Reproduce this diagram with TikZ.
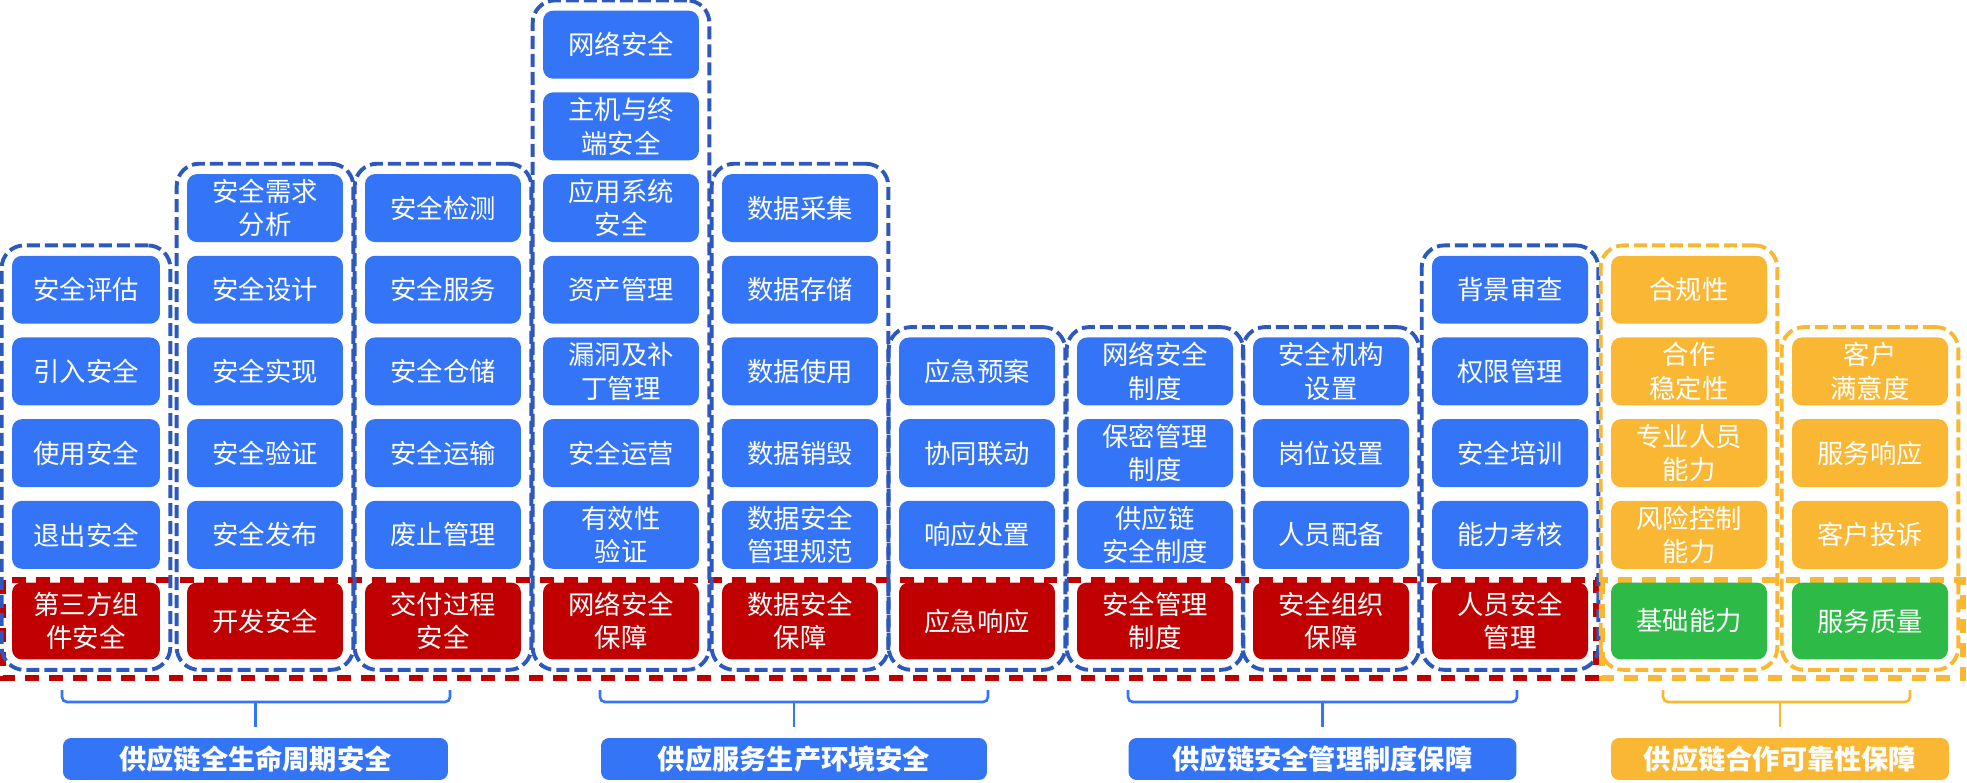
\documentclass[tikz,border=0pt]{standalone}
\usepackage{fontspec}
\newfontfamily\cjk{Noto Sans CJK SC}
\usetikzlibrary{positioning,fit}

\definecolor{itemblue}{RGB}{52,117,247}
\definecolor{frameblue}{RGB}{45,88,190}
\definecolor{basered}{RGB}{192,0,0}
\definecolor{itemorange}{RGB}{250,183,52}
\definecolor{basegreen}{RGB}{46,186,70}

\begin{document}
\begin{tikzpicture}[x=0.02cm, y=-0.02cm, node distance=0.26cm,
    every node/.style={font=\cjk\fontsize{15}{19}\selectfont, text=white, align=center},
    item/.style={rectangle, rounded corners=0.2cm, fill=itemblue, minimum width=3.12cm, minimum height=1.36cm, inner sep=1pt},
    redbase/.style={item, fill=basered, minimum height=1.54cm},
    orangeitem/.style={item, fill=itemorange},
    greenbase/.style={redbase, fill=basegreen},
    pillar/.style={rectangle, draw=frameblue, line width=2.2pt, dash pattern=on 0.26cm off 0.1cm, rounded corners=0.45cm, inner sep=0.2cm},
    orangepillar/.style={pillar, draw=itemorange},
    band/.style={line width=3.4pt, dash pattern=on 0.28cm off 0.2cm},
    groupbrace/.style={line width=1.5pt, rounded corners=0.1cm},
    groupbox/.style={rectangle, rounded corners=0.16cm, fill=itemblue, minimum height=0.84cm, font=\cjk\bfseries\fontsize{15.5}{19}\selectfont}]

    \useasboundingbox (0,0) rectangle (1967,783);

    % Dashed bands behind the base row
    \draw[band, draw=basered] (3,580) rectangle (1596,678);
    \draw[band, draw=itemorange] (1602,580) rectangle (1963,678);

    % Base row
    \node[redbase, minimum width=2.96cm] (base1) at (86,621) {第三方组\\件安全};
    \node[redbase] (base2) at (265,621) {开发安全};
    \node[redbase] (base3) at (443,621) {交付过程\\安全};
    \node[redbase] (base4) at (621,621) {网络安全\\保障};
    \node[redbase] (base5) at (800,621) {数据安全\\保障};
    \node[redbase] (base6) at (977,621) {应急响应};
    \node[redbase] (base7) at (1155,621) {安全管理\\制度};
    \node[redbase] (base8) at (1331,621) {安全组织\\保障};
    \node[redbase] (base9) at (1510,621) {人员安全\\管理};
    \node[greenbase] (base10) at (1689,621) {基础能力};
    \node[greenbase] (base11) at (1870,621) {服务质量};

    % Lifecycle columns
    \node[item, minimum width=2.96cm, above=of base1] (c1d) {退出安全};
    \node[item, minimum width=2.96cm, above=of c1d] (c1c) {使用安全};
    \node[item, minimum width=2.96cm, above=of c1c] (c1b) {引入安全};
    \node[item, minimum width=2.96cm, above=of c1b] (c1a) {安全评估};

    \node[item, above=of base2] (c2e) {安全发布};
    \node[item, above=of c2e] (c2d) {安全验证};
    \node[item, above=of c2d] (c2c) {安全实现};
    \node[item, above=of c2c] (c2b) {安全设计};
    \node[item, above=of c2b] (c2a) {安全需求\\分析};

    \node[item, above=of base3] (c3e) {废止管理};
    \node[item, above=of c3e] (c3d) {安全运输};
    \node[item, above=of c3d] (c3c) {安全仓储};
    \node[item, above=of c3c] (c3b) {安全服务};
    \node[item, above=of c3b] (c3a) {安全检测};

    % Environment columns
    \node[item, above=of base4] (c4g) {有效性\\验证};
    \node[item, above=of c4g] (c4f) {安全运营};
    \node[item, above=of c4f] (c4e) {漏洞及补\\丁管理};
    \node[item, above=of c4e] (c4d) {资产管理};
    \node[item, above=of c4d] (c4c) {应用系统\\安全};
    \node[item, above=of c4c] (c4b) {主机与终\\端安全};
    \node[item, above=of c4b] (c4a) {网络安全};

    \node[item, above=of base5] (c5e) {数据安全\\管理规范};
    \node[item, above=of c5e] (c5d) {数据销毁};
    \node[item, above=of c5d] (c5c) {数据使用};
    \node[item, above=of c5c] (c5b) {数据存储};
    \node[item, above=of c5b] (c5a) {数据采集};

    \node[item, above=of base6] (c6c) {响应处置};
    \node[item, above=of c6c] (c6b) {协同联动};
    \node[item, above=of c6b] (c6a) {应急预案};

    % Management columns
    \node[item, above=of base7] (c7c) {供应链\\安全制度};
    \node[item, above=of c7c] (c7b) {保密管理\\制度};
    \node[item, above=of c7b] (c7a) {网络安全\\制度};

    \node[item, above=of base8] (c8c) {人员配备};
    \node[item, above=of c8c] (c8b) {岗位设置};
    \node[item, above=of c8b] (c8a) {安全机构\\设置};

    \node[item, above=of base9] (c9d) {能力考核};
    \node[item, above=of c9d] (c9c) {安全培训};
    \node[item, above=of c9c] (c9b) {权限管理};
    \node[item, above=of c9b] (c9a) {背景审查};

    % Cooperation columns
    \node[orangeitem, above=of base10] (c10d) {风险控制\\能力};
    \node[orangeitem, above=of c10d] (c10c) {专业人员\\能力};
    \node[orangeitem, above=of c10c] (c10b) {合作\\稳定性};
    \node[orangeitem, above=of c10b] (c10a) {合规性};

    \node[orangeitem, above=of base11] (c11c) {客户投诉};
    \node[orangeitem, above=of c11c] (c11b) {服务响应};
    \node[orangeitem, above=of c11b] (c11a) {客户\\满意度};

    % Dashed frames
    \node[pillar, fit=(c1a)(base1)] (f1) {};
    \node[pillar, fit=(c2a)(base2)] (f2) {};
    \node[pillar, fit=(c3a)(base3)] (f3) {};
    \node[pillar, fit=(c4a)(base4)] (f4) {};
    \node[pillar, fit=(c5a)(base5)] (f5) {};
    \node[pillar, fit=(c6a)(base6)] (f6) {};
    \node[pillar, fit=(c7a)(base7)] (f7) {};
    \node[pillar, fit=(c8a)(base8)] (f8) {};
    \node[pillar, fit=(c9a)(base9)] (f9) {};
    \node[orangepillar, fit=(c10a)(base10)] (f10) {};
    \node[orangepillar, fit=(c11a)(base11)] (f11) {};

    % Group labels
    \node[groupbox, minimum width=7.7cm] (g1) at (255.5,759) {供应链全生命周期安全};
    \node[groupbox, minimum width=7.72cm] (g2) at (794,759) {供应服务生产环境安全};
    \node[groupbox, minimum width=7.76cm] (g3) at (1322.5,759) {供应链安全管理制度保障};
    \node[groupbox, fill=itemorange, minimum width=6.76cm] (g4) at (1780,759) {供应链合作可靠性保障};

    % Brackets
    \draw[groupbrace, itemblue] (62,690) |- (450,702) -- (450,690);
    \draw[groupbrace, itemblue] (g1.north) ++(0,-11) -- ++(0,-25);
    \draw[groupbrace, itemblue] (600,690) |- (988,702) -- (988,690);
    \draw[groupbrace, itemblue] (g2.north) ++(0,-11) -- ++(0,-25);
    \draw[groupbrace, itemblue] (1128,690) |- (1517,702) -- (1517,690);
    \draw[groupbrace, itemblue] (g3.north) ++(0,-11) -- ++(0,-25);
    \draw[groupbrace, itemorange] (1663,690) |- (1910,702) -- (1910,690);
    \draw[groupbrace, itemorange] (g4.north) ++(0,-11) -- ++(0,-25);

\end{tikzpicture}
\end{document}
